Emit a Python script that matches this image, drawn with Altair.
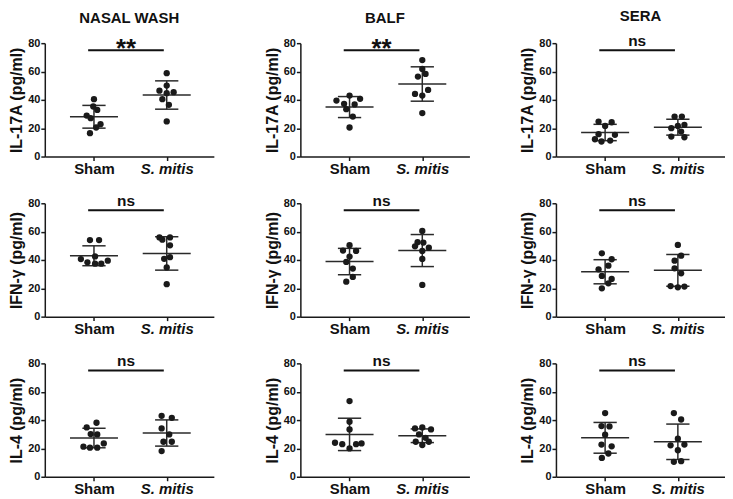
import altair as alt
import pandas as pd

SITES = ["NASAL WASH", "BALF", "SERA"]
Y_TITLES = ["IL-17A (pg/ml)", "IFN-γ (pg/ml)", "IL-4 (pg/ml)"]
GROUP_CODES = [1, 2]
GROUP_LABELS = ["Sham", "S. mitis"]
SIGNIF = [["**", "**", "ns"], ["ns", "ns", "ns"], ["ns", "ns", "ns"]]
Y_TICKS = [0, 20, 40, 60, 80]
SIG_BAR_Y = 75

# values (pg/ml); *_DX = horizontal scatter offset of each dot (category units)
NW_IL17A_SHAM = [40.5, 35.3, 32.9, 28.9, 27.1, 22.8, 20.5, 16.5]
NW_IL17A_SHAM_DX = [0, -0.01, 0.045, -0.10, -0.045, 0.09, 0.03, -0.055]
NW_IL17A_MITIS = [58.8, 50.1, 46.5, 45.4, 44.7, 40.5, 36.5, 24.8]
NW_IL17A_MITIS_DX = [0, 0, -0.10, 0.095, 0, -0.06, 0.03, 0]

BA_IL17A_SHAM = [43.0, 40.7, 39.5, 37.2, 36.8, 33.4, 28.2, 20.5]
BA_IL17A_SHAM_DX = [0, 0.145, -0.18, -0.075, 0.07, -0.045, 0.045, 0]
BA_IL17A_MITIS = [68.1, 61.8, 58.3, 56.4, 47.0, 44.2, 43.0, 30.7]
BA_IL17A_MITIS_DX = [0, 0, 0.045, -0.06, 0.08, -0.10, 0, 0]

SE_IL17A_SHAM = [24.7, 24.2, 21.6, 15.8, 15.3, 12.2, 11.3, 10.6]
SE_IL17A_SHAM_DX = [-0.09, 0.09, 0, -0.09, 0.135, -0.14, 0.07, -0.05]
SE_IL17A_MITIS = [28.2, 28.2, 22.4, 21.6, 20.0, 17.6, 14.1, 13.6]
SE_IL17A_MITIS_DX = [-0.045, 0.055, 0.09, 0, -0.09, 0.045, -0.09, 0.09]

NW_IFNG_SHAM = [54.0, 54.0, 42.5, 40.6, 39.5, 38.3, 37.4, 37.4]
NW_IFNG_SHAM_DX = [-0.055, 0.07, 0.015, -0.18, 0.19, -0.09, 0.015, 0.10]
NW_IFNG_MITIS = [55.9, 55.9, 54.3, 50.3, 42.0, 40.8, 34.7, 22.9]
NW_IFNG_MITIS_DX = [-0.10, 0.045, -0.06, 0.045, 0.045, -0.035, 0, 0]

BA_IFNG_SHAM = [50.4, 46.6, 46.4, 42.4, 38.6, 33.9, 28.0, 24.7]
BA_IFNG_SHAM_DX = [0, -0.09, 0.09, 0, -0.045, 0.045, 0.045, -0.045]
BA_IFNG_MITIS = [60.5, 52.5, 52.3, 49.6, 48.7, 46.4, 40.7, 22.4]
BA_IFNG_MITIS_DX = [0, -0.065, 0.015, -0.10, 0.09, 0, 0, 0]

SE_IFNG_SHAM = [44.7, 40.5, 36.0, 33.4, 28.7, 26.6, 23.5, 20.0]
SE_IFNG_SHAM_DX = [-0.045, 0.09, 0.045, -0.09, -0.045, 0.09, 0.045, -0.045]
SE_IFNG_MITIS = [50.6, 43.0, 39.5, 34.1, 30.6, 21.6, 21.2, 20.7]
SE_IFNG_MITIS_DX = [0, 0.045, -0.045, -0.045, 0.045, -0.10, 0.09, 0]

NW_IL4_SHAM = [38.1, 34.8, 30.1, 29.9, 23.5, 21.2, 20.5, 20.5]
NW_IL4_SHAM_DX = [0.035, -0.10, -0.045, 0.045, 0.135, -0.145, -0.055, 0.045]
NW_IL4_MITIS = [43.0, 41.6, 34.1, 29.9, 24.7, 24.7, 18.1]
NW_IL4_MITIS_DX = [-0.07, 0.07, -0.07, 0.035, -0.045, 0.07, -0.07]

BA_IL4_SHAM = [53.4, 38.8, 33.4, 24.0, 23.5, 23.0, 23.0, 20.0]
BA_IL4_SHAM_DX = [0, 0, 0, -0.20, 0.165, -0.10, 0.09, 0]
BA_IL4_MITIS = [34.8, 34.1, 33.4, 29.9, 27.5, 24.7, 24.7, 22.4]
BA_IL4_MITIS_DX = [0, -0.10, 0.12, -0.045, 0.045, -0.09, 0.09, 0]

SE_IL4_SHAM = [44.9, 35.8, 35.5, 29.7, 22.7, 21.5, 16.4, 13.3]
SE_IL4_SHAM_DX = [0, -0.05, 0.06, 0, -0.05, 0.09, 0.045, -0.045]
SE_IL4_MITIS = [44.9, 40.4, 26.9, 22.7, 22.2, 18.7, 11.0, 10.5]
SE_IL4_MITIS_DX = [-0.055, 0.045, 0, 0.09, -0.10, 0, 0.045, -0.055]

PANELS = [
    [(NW_IL17A_SHAM, NW_IL17A_SHAM_DX, NW_IL17A_MITIS, NW_IL17A_MITIS_DX),
     (BA_IL17A_SHAM, BA_IL17A_SHAM_DX, BA_IL17A_MITIS, BA_IL17A_MITIS_DX),
     (SE_IL17A_SHAM, SE_IL17A_SHAM_DX, SE_IL17A_MITIS, SE_IL17A_MITIS_DX)],
    [(NW_IFNG_SHAM, NW_IFNG_SHAM_DX, NW_IFNG_MITIS, NW_IFNG_MITIS_DX),
     (BA_IFNG_SHAM, BA_IFNG_SHAM_DX, BA_IFNG_MITIS, BA_IFNG_MITIS_DX),
     (SE_IFNG_SHAM, SE_IFNG_SHAM_DX, SE_IFNG_MITIS, SE_IFNG_MITIS_DX)],
    [(NW_IL4_SHAM, NW_IL4_SHAM_DX, NW_IL4_MITIS, NW_IL4_MITIS_DX),
     (BA_IL4_SHAM, BA_IL4_SHAM_DX, BA_IL4_MITIS, BA_IL4_MITIS_DX),
     (SE_IL4_SHAM, SE_IL4_SHAM_DX, SE_IL4_MITIS, SE_IL4_MITIS_DX)],
]

FONT = "Liberation Sans"
INK = "#1a1a1a"
W, H = 170, 114

label_expr = "datum.value == %d ? '%s' : '%s'" % (GROUP_CODES[0], GROUP_LABELS[0], GROUP_LABELS[1])


def panel(r, c):
    sham, sdx, mit, mdx = PANELS[r][c]
    df = pd.DataFrame({
        "g": [GROUP_CODES[0]] * len(sham) + [GROUP_CODES[1]] * len(mit),
        "value": sham + mit,
        "dx": sdx + mdx,
    })
    xs = alt.Scale(domain=[0.324, 2.648], nice=False, zero=False)
    ys = alt.Scale(domain=[0, 80], nice=False, zero=True)
    xa = alt.Axis(values=GROUP_CODES, labelExpr=label_expr, title=None, grid=False,
                  labelFontStyle={"condition": {"test": "datum.value == 2", "value": "italic"},
                                  "value": "normal"})
    ya = alt.Axis(values=Y_TICKS, title=Y_TITLES[r], grid=False)

    base = alt.Chart(df)
    pts = base.transform_calculate(xp="datum.g + datum.dx").mark_circle(
        size=40, color=INK, opacity=1).encode(
        x=alt.X("xp:Q", scale=xs, axis=xa), y=alt.Y("value:Q", scale=ys, axis=ya))

    stats = base.transform_aggregate(
        m="mean(value)", sd="stdev(value)", groupby=["g"]
    ).transform_calculate(
        lo="datum.m - datum.sd", hi="datum.m + datum.sd",
        a1="datum.g - 0.33", a2="datum.g + 0.33",
        c1="datum.g - 0.16", c2="datum.g + 0.16",
    )
    rule_style = dict(color="#2a2a2a", strokeWidth=1.5)
    mean_rule = stats.mark_rule(**rule_style).encode(
        x=alt.X("a1:Q", scale=xs, axis=xa), x2="a2:Q", y=alt.Y("m:Q", scale=ys, axis=ya))
    whisk = stats.mark_rule(**rule_style).encode(
        x=alt.X("g:Q", scale=xs, axis=xa), y=alt.Y("lo:Q", scale=ys, axis=ya), y2="hi:Q")
    cap_hi = stats.mark_rule(**rule_style).encode(
        x=alt.X("c1:Q", scale=xs, axis=xa), x2="c2:Q", y=alt.Y("hi:Q", scale=ys, axis=ya))
    cap_lo = stats.mark_rule(**rule_style).encode(
        x=alt.X("c1:Q", scale=xs, axis=xa), x2="c2:Q", y=alt.Y("lo:Q", scale=ys, axis=ya))

    lab = SIGNIF[r][c]
    sig_df = pd.DataFrame({"ga": [GROUP_CODES[0]], "gb": [GROUP_CODES[1]],
                           "y": [SIG_BAR_Y], "label": [lab]})
    sig_base = alt.Chart(sig_df).transform_calculate(
        x1="datum.ga - 0.08", x2="datum.gb - 0.04", xm="(datum.ga + datum.gb) / 2 - 0.06")
    bar = sig_base.mark_rule(color="#111", strokeWidth=2).encode(
        x=alt.X("x1:Q", scale=xs, axis=xa), x2="x2:Q", y=alt.Y("y:Q", scale=ys, axis=ya))
    if lab == "**":
        txt_mark = dict(fontSize=26, dy=7)
    else:
        txt_mark = dict(fontSize=15.5, dy=-4)
    txt = sig_base.mark_text(font=FONT, fontWeight="bold", color="#111", baseline="alphabetic",
                             align="center", **txt_mark).encode(
        x=alt.X("xm:Q", scale=xs, axis=xa), y=alt.Y("y:Q", scale=ys, axis=ya), text="label:N")

    ch = alt.layer(mean_rule, whisk, cap_hi, cap_lo, pts, bar, txt).properties(width=W, height=H)
    if r == 0:
        ch = ch.properties(title=alt.TitleParams(SITES[c], font=FONT, fontSize=15, fontWeight="bold",
                                                 color="#111", anchor="middle", frame="group",
                                                 offset=10))
    return ch


charts = [panel(r, c) for r in range(3) for c in range(3)]

chart = alt.concat(*charts, columns=3, spacing={"row": 47, "column": 87}, bounds="flush").properties(
    padding={"left": 0, "top": 0, "right": 0, "bottom": 0}
).configure_view(stroke=None).configure_axis(
    domainColor=INK, tickColor=INK, labelColor="#111", titleColor="#111",
    labelFont=FONT, titleFont=FONT, labelFontWeight="bold", titleFontWeight="bold",
    domainWidth=1.5, tickWidth=1.5, tickSize=4,
).configure_axisX(
    labelFontSize=15, labelPadding=1, labelOverlap=False, labelFlush=False,
).configure_axisY(
    labelFontSize=11, titleFontSize=16, labelPadding=1, titlePadding=3,
)

chart.save("out.html", embed_options={"renderer": "svg", "actions": False})
